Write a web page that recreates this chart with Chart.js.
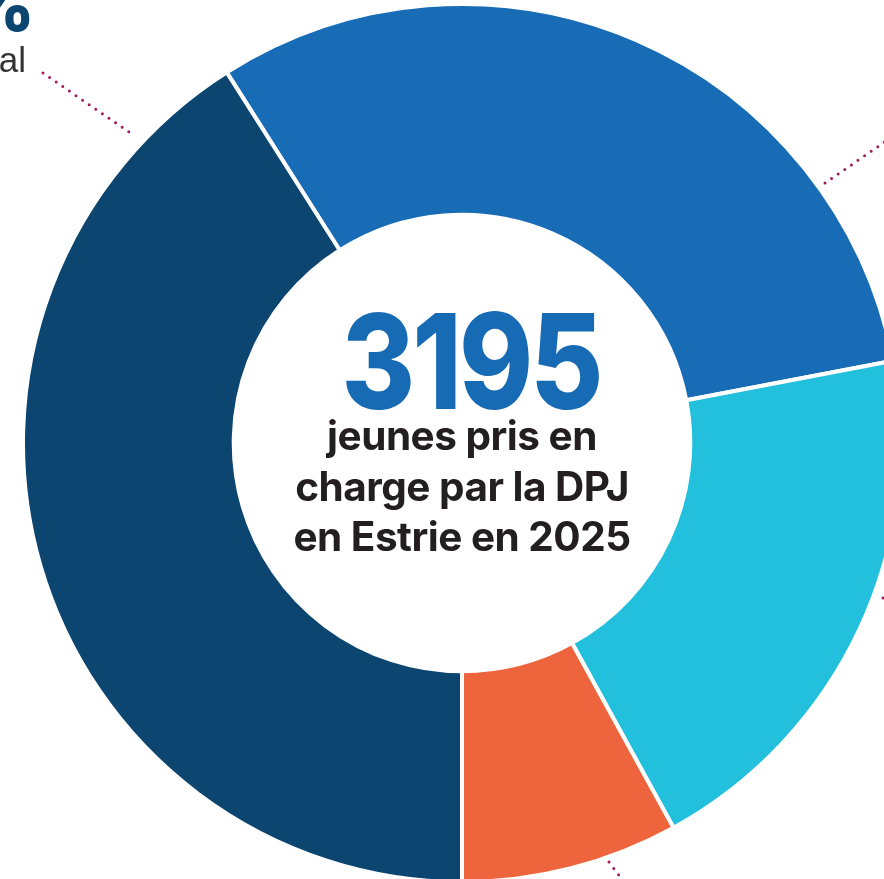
<!DOCTYPE html>
<html>
<head>
<meta charset="utf-8">
<script src="https://cdn.jsdelivr.net/npm/chart.js@4"></script>
<style>
  html, body { margin: 0; padding: 0; background: #ffffff; overflow: hidden; width: 884px; height: 879px; }
  #wrap { position: absolute; left: 21px; top: 2px; width: 882px; height: 882px; }
  .txt { position: absolute; white-space: nowrap; font-family: Inter, "Open Sans", sans-serif; }
  #big { left: 0; width: 942px; text-align: center; top: 291px; font-size: 118px; font-weight: 800; color: #176bb4; letter-spacing: -3px; line-height: 140px; transform: scale(0.95, 1.12); transform-origin: 471px 70px; }
  .line { left: 0; width: 924px; text-align: center; font-size: 40.5px; font-weight: 700; color: #231f20; letter-spacing: -0.5px; line-height: 44px; }
  #l1 { top: 414px; }
  #l2 { top: 465px; }
  #l3 { top: 515px; }
  #pct { right: 849px; top: -31px; font-size: 72px; line-height: 72px; font-weight: 800; color: #0b4570; }
  #lab { right: 858px; top: 40px; font-size: 35px; line-height: 40px; font-weight: 400; color: #333333; font-family: "Liberation Sans", Arial, sans-serif; }
  svg { position: absolute; left: 0; top: 0; }
</style>
</head>
<body>
<div id="wrap"><canvas id="c" width="882" height="882"></canvas></div>
<div class="txt" id="big">3195</div>
<div class="txt line" id="l1">jeunes pris en</div>
<div class="txt line" id="l2">charge par la DPJ</div>
<div class="txt line" id="l3">en Estrie en 2025</div>
<div class="txt" id="pct">41%</div>
<div class="txt" id="lab">al</div>
<svg width="884" height="879">
  <g stroke="#a01a5c" stroke-width="3" stroke-linecap="round" stroke-dasharray="0 8" fill="none">
    <line x1="43" y1="73" x2="129" y2="132"/>
    <line x1="825" y1="183" x2="892" y2="137"/>
    <line x1="883" y1="598" x2="892" y2="598"/>
    <line x1="609" y1="862" x2="624" y2="882"/>
  </g>
</svg>
<script>
const categories = ["Catégorie A", "Catégorie B", "Catégorie C", "Catégorie D"];
const values = [31, 20, 8, 41];
const colors = ["#176cb5", "#22c0dc", "#ee643c", "#0b4570"];

new Chart(document.getElementById('c'), {
  type: 'doughnut',
  data: {
    labels: categories,
    datasets: [{
      data: values,
      backgroundColor: colors,
      borderColor: '#ffffff',
      borderWidth: 4,
      hoverOffset: 0
    }]
  },
  options: {
    responsive: false,
    animation: false,
    cutout: '52%',
    rotation: -32.4,
    layout: { padding: 0 },
    plugins: { legend: { display: false }, tooltip: { enabled: false } }
  }
});
</script>
</body>
</html>
